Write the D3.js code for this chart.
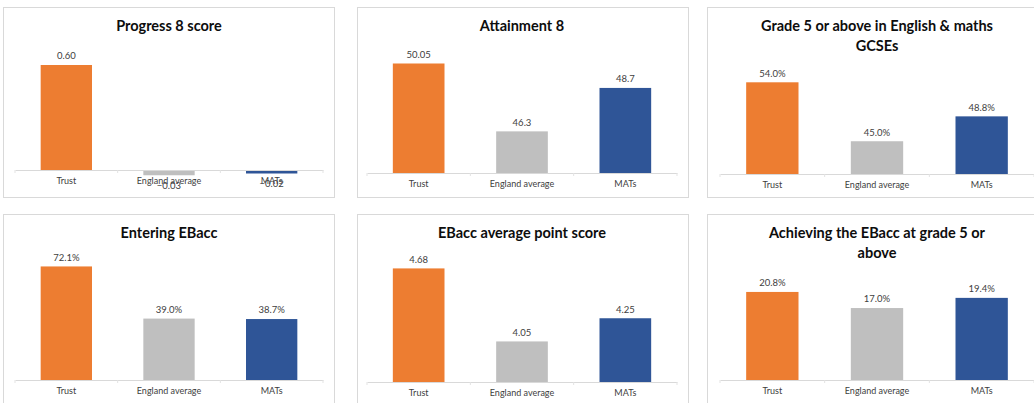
<!DOCTYPE html>
<html>
<head>
<meta charset="utf-8">
<script src="https://cdn.jsdelivr.net/npm/d3@7"></script>
<style>
  html, body { margin: 0; padding: 0; background: #ffffff; }
  svg { display: block; font-family: Lato, "Open Sans", sans-serif; }
</style>
</head>
<body>
<svg id="chart" width="1034" height="403"></svg>
<script>
// Categories shared by every panel
const categories = ["Trust", "England average", "MATs"];
const barColors = ["#ED7D31", "#BFBFBF", "#2F5597"];

// Panel titles (one entry per line)
const titleProgress8 = ["Progress 8 score"];
const titleAttainment8 = ["Attainment 8"];
const titleEngMaths = ["Grade 5 or above in English & maths", "GCSEs"];
const titleEnteringEBacc = ["Entering EBacc"];
const titleEBaccAPS = ["EBacc average point score"];
const titleAchievingEBacc = ["Achieving the EBacc at grade 5 or", "above"];

// Values: Trust, England average, MATs
const progress8 = [0.60, -0.03, -0.02];
const attainment8 = [50.05, 46.3, 48.7];
const engMaths5 = [54.0, 45.0, 48.8];
const enteringEBacc = [72.1, 39.0, 38.7];
const ebaccAPS = [4.68, 4.05, 4.25];
const achievingEBacc5 = [20.8, 17.0, 19.4];

// Value-axis bounds for each panel
const domainProgress8 = [-0.1, 0.7];
const domainAttainment8 = [44, 51];
const domainEngMaths = [40, 60];
const domainEnteringEBacc = [0, 80];
const domainEBaccAPS = [3.7, 4.8];
const domainAchievingEBacc = [0, 30];

const fmt2 = d3.format(".2f");
const fmtPlain = v => String(v);
const fmtPct = v => d3.format(".1f")(v) + "%";

// Panel grid: columns and rows of the dashboard
const columns = [
  { frameX: 3,   plotX0: 15,  plotX1: 323 },
  { frameX: 357, plotX0: 367, plotX1: 677 },
  { frameX: 707, plotX0: 720, plotX1: 1034 }
];
const frameW = 331;

const panels = [
  { col: 0, frameY: 7,   frameH: 190, titleY: 26,  title: titleProgress8,     values: progress8,      domain: domainProgress8,     range: [187.5, 47.5], fmt: fmt2 },
  { col: 1, frameY: 7,   frameH: 190, titleY: 26,  title: titleAttainment8,   values: attainment8,    domain: domainAttainment8,   range: [173, 46.3],   fmt: fmtPlain },
  { col: 2, frameY: 7,   frameH: 190, titleY: 26,  title: titleEngMaths,      values: engMaths5,      domain: domainEngMaths,      range: [174, 43],     fmt: fmtPct },
  { col: 0, frameY: 214, frameH: 200, titleY: 233, title: titleEnteringEBacc, values: enteringEBacc,  domain: domainEnteringEBacc, range: [380, 254],    fmt: fmtPct },
  { col: 1, frameY: 214, frameH: 200, titleY: 233, title: titleEBaccAPS,      values: ebaccAPS,       domain: domainEBaccAPS,      range: [382, 254.5],  fmt: fmt2 },
  { col: 2, frameY: 214, frameH: 200, titleY: 233, title: titleAchievingEBacc,values: achievingEBacc5,domain: domainAchievingEBacc,range: [380, 253],    fmt: fmtPct }
];

const svg = d3.select("#chart");

panels.forEach(p => {
  const c = columns[p.col];
  const g = svg.append("g");

  // Chart frame
  g.append("rect")
    .attr("x", c.frameX + 0.5).attr("y", p.frameY + 0.5)
    .attr("width", frameW).attr("height", p.frameH)
    .attr("fill", "#ffffff").attr("stroke", "#d9d9d9").attr("stroke-width", 1);

  // Title
  const cx = (c.plotX0 + c.plotX1) / 2;
  g.append("text")
    .attr("x", cx).attr("y", p.titleY)
    .attr("text-anchor", "middle")
    .attr("font-weight", "bold").attr("font-size", 14.5).attr("fill", "#0d0d0d")
    .selectAll("tspan").data(p.title).join("tspan")
    .attr("x", cx)
    .attr("dy", (d, i) => i === 0 ? "0.35em" : "1.38em")
    .text(d => d);

  const x = d3.scaleBand().domain(categories).range([c.plotX0, c.plotX1])
    .paddingInner(0.5).paddingOuter(0.25);
  const y = d3.scaleLinear().domain(p.domain).range(p.range);
  const base = y(Math.max(p.domain[0], 0));

  const rows = categories.map((cat, i) => ({ cat, v: p.values[i], color: barColors[i] }));

  // Bars
  g.selectAll("rect.bar").data(rows).join("rect")
    .attr("class", "bar")
    .attr("x", d => x(d.cat))
    .attr("width", x.bandwidth())
    .attr("y", d => Math.min(y(d.v), base))
    .attr("height", d => Math.abs(base - y(d.v)))
    .attr("fill", d => d.color);

  // Category axis at the baseline
  const axis = g.append("g").attr("transform", `translate(0,${base})`)
    .call(d3.axisBottom(x).tickSize(0).tickPadding(8));
  axis.select(".domain").attr("stroke", "#d9d9d9").attr("stroke-width", 1);
  axis.selectAll("text").attr("font-size", 9).attr("fill", "#404040")
    .attr("font-family", "Lato, 'Open Sans', sans-serif");

  // Small tick marks between categories
  const bounds = [c.plotX0, ...categories.slice(1).map(cat => x(cat) - x.step() * 0.25), c.plotX1];
  g.selectAll("line.tick").data(bounds).join("line")
    .attr("x1", d => d).attr("x2", d => d)
    .attr("y1", base).attr("y2", base + 3)
    .attr("stroke", "#e3e3e3");

  // Value labels
  g.selectAll("text.val").data(rows).join("text")
    .attr("class", "val")
    .attr("x", d => x(d.cat) + x.bandwidth() / 2)
    .attr("y", d => d.v >= 0 ? y(d.v) - 9 : y(d.v) + 10)
    .attr("dy", "0.35em")
    .attr("text-anchor", "middle")
    .attr("font-size", 9.5).attr("fill", "#404040")
    .text(d => p.fmt(d.v));
});
</script>
</body>
</html>
